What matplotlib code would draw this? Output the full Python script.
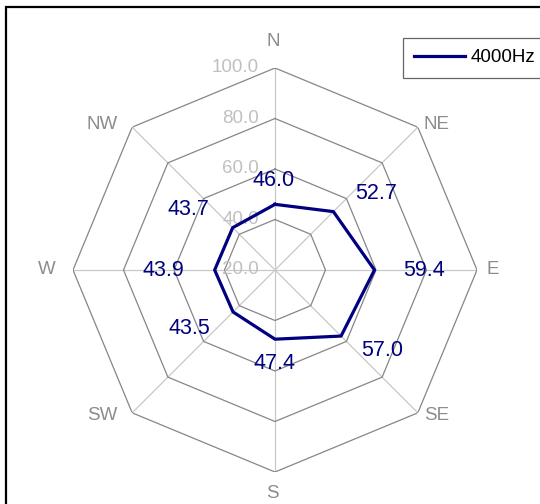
import numpy as np
import matplotlib.pyplot as plt
from matplotlib.patches import Rectangle

# directions and measured levels
directions = ['N', 'NE', 'E', 'SE', 'S', 'SW', 'W', 'NW']
values_4000 = [46.0, 52.7, 59.4, 57.0, 47.4, 43.5, 43.9, 43.7]
series_name = '4000Hz'
r_ticks = [20, 40, 60, 80, 100]

plt.rcParams['font.family'] = ['Liberation Sans', 'DejaVu Sans']

NAVY = '#000080'
RING = '#868686'
SPOKE = '#c8c8c8'
LABEL = '#8c8c8c'
TICK = '#c0c0c0'

fig = plt.figure(figsize=(5.4, 5.04), dpi=100)
ax = fig.add_axes([73 / 540, 1 - 472 / 504, 404 / 540, 404 / 504], projection='polar')
ax.set_theta_zero_location('N')
ax.set_theta_direction(-1)
ax.set_ylim(r_ticks[0], r_ticks[-1])
ax.grid(False)
ax.spines['polar'].set_visible(False)
ax.set_xticks([])
ax.set_yticks([])
ax.patch.set_visible(False)

n = len(directions)
theta = np.arange(n) * 2 * np.pi / n
theta_closed = np.append(theta, theta[0])

# spokes
for t in theta:
    ax.plot([t, t], [r_ticks[0], r_ticks[-1]], color=SPOKE, lw=0.9, zorder=1)
# octagon rings
for r in r_ticks[1:]:
    ax.plot(theta_closed, [r] * (n + 1), color=RING, lw=0.9, zorder=2)

# radial tick labels
for r in r_ticks:
    ax.annotate(f'{r:.1f}', (0, r), xytext=(-16, 0), textcoords='offset pixels',
                ha='right', va='center', color=TICK, fontsize=13.5, zorder=3)

# series
vals = np.append(values_4000, values_4000[0])
line, = ax.plot(theta_closed, vals, color=NAVY, lw=2.3, zorder=4, label=series_name)

# data labels (pixel offsets from each point)
lab_off = [(-1, 24), (43, 18), (50, 0), (41, -14), (-1, -24), (-44, -17), (-51, 0), (-44, 18)]
for t, v, off in zip(theta, values_4000, lab_off):
    ax.annotate(f'{v:.1f}', (t, v), xytext=off, textcoords='offset pixels',
                ha='center', va='center', color=NAVY, fontsize=15.5, zorder=5)

# direction labels
dir_off = [(-2, 26), (19, 3), (16, 0), (19, -3), (-3, -22), (-30, -3), (-26, 0), (-30, 3)]
for t, d, off in zip(theta, directions, dir_off):
    ax.annotate(d, (t, r_ticks[-1]), xytext=off, textcoords='offset pixels',
                ha='center', va='center', color=LABEL, fontsize=13.5, annotation_clip=False)

# legend
leg = fig.legend(handles=[line], loc='upper left', bbox_to_anchor=(403 / 540, 1 - 38 / 504),
                 frameon=True, fancybox=False, fontsize=13.5, handlelength=2.7,
                 handletextpad=0.3, borderpad=0.6, borderaxespad=0)
leg.get_frame().set_edgecolor('#404040')
leg.get_frame().set_linewidth(0.9)

# chart area frame
fig.patches.append(Rectangle((6 / 540, -0.1), 1.2, 1.1 - 7 / 504, transform=fig.transFigure,
                             fill=False, edgecolor='black', lw=1.6))

fig.savefig('out.png', dpi=100)
